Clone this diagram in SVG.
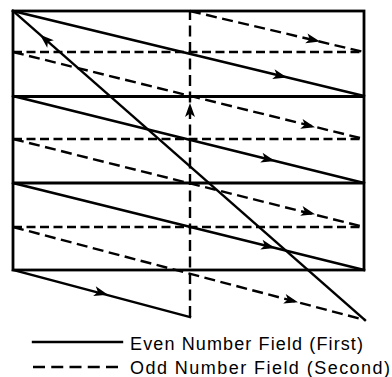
<svg xmlns="http://www.w3.org/2000/svg" width="392" height="377" viewBox="0 0 392 377">
<style>
.s{stroke:#000;stroke-width:2.4;fill:none;stroke-linecap:square}
.f{stroke:#000;stroke-width:2.8;fill:none}
.d{stroke:#000;stroke-width:2.4;fill:none;stroke-dasharray:11 5.5}
.dh{stroke:#000;stroke-width:2.4;fill:none;stroke-dasharray:9 4.5}
.ah{fill:#000}
.t{font-family:"Liberation Sans",Arial,sans-serif;font-size:18px;fill:#000}
</style>
<defs>
<path id="arr" d="M0,0 L-14,-5 L-10.5,0 L-14,5 Z"/>
</defs>
<rect width="392" height="377" fill="#fff"/>
<g id="frame">
<rect class="f" x="13" y="11" width="351" height="259"/>
<line class="f" x1="13" y1="96.5" x2="364" y2="96.5"/>
<line class="f" x1="13" y1="183" x2="364" y2="183"/>
<line class="dh" x1="13" y1="52" x2="364" y2="52"/>
<line class="dh" x1="13" y1="139" x2="364" y2="139"/>
<line class="dh" x1="13" y1="227" x2="364" y2="227"/>
</g>
<g id="even-field">
<line class="s" x1="13" y1="11" x2="364" y2="96"/>
<line class="s" x1="13" y1="96" x2="364" y2="183"/>
<line class="s" x1="13" y1="183" x2="364" y2="270"/>
<line class="s" x1="13" y1="270" x2="190" y2="317"/>
<line class="s" x1="365" y1="320" x2="13" y2="11"/>
</g>
<g id="odd-field">
<line class="d" x1="190" y1="317" x2="190" y2="11"/>
<line class="d" x1="190" y1="11" x2="364" y2="52"/>
<line class="d" x1="13" y1="52" x2="364" y2="139"/>
<line class="d" x1="13" y1="139" x2="364" y2="227"/>
<line class="d" x1="13" y1="227" x2="365" y2="320"/>
</g>
<g id="arrows" class="ah">
<use href="#arr" transform="translate(287,77.4) rotate(13.6)"/>
<use href="#arr" transform="translate(275,161) rotate(13.9)"/>
<use href="#arr" transform="translate(275,248) rotate(13.9)"/>
<use href="#arr" transform="translate(108,294.7) rotate(14.9)"/>
<use href="#arr" transform="translate(40,34.7) rotate(221.3)"/>
<use href="#arr" transform="translate(190,103) rotate(-90)"/>
<use href="#arr" transform="translate(320,41.6) rotate(13.3)"/>
<use href="#arr" transform="translate(315,127.2) rotate(13.9)"/>
<use href="#arr" transform="translate(315,214.3) rotate(14)"/>
<use href="#arr" transform="translate(298,302.3) rotate(14.8)"/>
</g>
<g id="legend">
<line class="s" x1="33" y1="342" x2="122" y2="342"/>
<line stroke="#000" stroke-width="2.4" stroke-dasharray="12 6.25" x1="33" y1="367" x2="122" y2="367"/>
<text class="t" x="130" y="350" textLength="233" lengthAdjust="spacing">Even Number Field (First)</text>
<text class="t" x="130" y="373.5" textLength="260" lengthAdjust="spacing">Odd Number Field (Second)</text>
</g>
</svg>
